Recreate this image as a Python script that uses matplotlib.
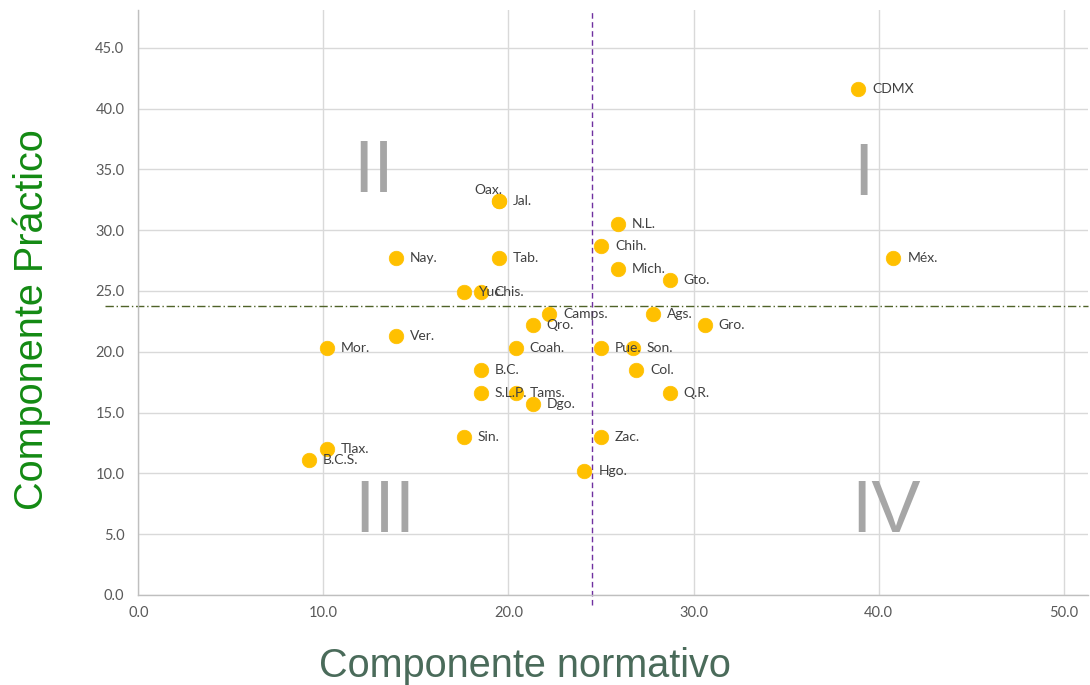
import matplotlib
matplotlib.use("Agg")
import matplotlib.pyplot as plt

# ---- data ----
states = ["CDMX", "Méx.", "Jal.", "Oax.", "Nay.", "Tab.", "Yuc.", "Chis.", "N.L.", "Chih.",
          "Mich.", "Gto.", "Camps.", "Qro.", "Ags.", "Gro.", "Mor.", "Ver.", "Coah.", "Pue.",
          "Son.", "B.C.", "Col.", "S.L.P.", "Tams.", "Q.R.", "Dgo.", "Sin.", "Zac.", "Tlax.",
          "B.C.S.", "Hgo."]
normativo = [38.9, 40.8, 19.5, 19.5, 13.9, 19.5, 17.6, 18.5, 25.9, 25.0,
             25.9, 28.7, 22.2, 21.3, 27.8, 30.6, 10.2, 13.9, 20.4, 25.0,
             26.7, 18.5, 26.9, 18.5, 20.4, 28.7, 21.3, 17.6, 25.0, 10.2,
             9.2, 24.1]
practico = [41.6, 27.7, 32.4, 32.4, 27.7, 27.7, 24.9, 24.9, 30.5, 28.7,
            26.8, 25.9, 23.1, 22.2, 23.1, 22.2, 20.3, 21.3, 20.3, 20.3,
            20.3, 18.5, 18.5, 16.6, 16.6, 16.6, 15.7, 13.0, 13.0, 12.0,
            11.1, 10.2]
mean_normativo = 24.5
mean_practico = 23.8
quadrants = ["I", "II", "III", "IV"]
quad_x = [39.2, 12.7, 13.3, 40.4]
quad_y = [34.5, 34.7, 6.8, 6.8]
xticks = [0, 10, 20, 30, 40, 50]
yticks = [0, 5, 10, 15, 20, 25, 30, 35, 40, 45]

fig = plt.figure(figsize=(10.9, 6.85), dpi=100)
ax = fig.add_axes([0.1269, 0.1314, 0.8711, 0.854])
ax.set_xlim(0, 51.3)
ax.set_ylim(0, 48.1)
ax.set_xticks(xticks)
ax.set_yticks(yticks)
ax.set_xticklabels([f"{v:.1f}" for v in xticks])
ax.set_yticklabels([f"{v:.1f}" for v in yticks])
ax.tick_params(length=0, labelsize=10.5, labelcolor="#595959")
ax.tick_params(axis="y", pad=10)
ax.tick_params(axis="x", pad=8)
for lab in ax.get_xticklabels() + ax.get_yticklabels():
    lab.set_fontfamily("Lato")
ax.grid(True, color="#d9d9d9", linewidth=1)
ax.set_axisbelow(True)
for s in ["top", "right"]:
    ax.spines[s].set_visible(False)
for s in ["left", "bottom"]:
    ax.spines[s].set_color("#bfbfbf")
    ax.spines[s].set_linewidth(1)

# quadrant numerals
for q, qx, qy in zip(quadrants, quad_x, quad_y):
    ax.text(qx, qy, q, fontsize=53, color="#a6a6a6", family="Liberation Sans",
            ha="center", va="center", zorder=1)

# mean lines
ax.plot([-1.8, 51.3], [mean_practico, mean_practico], color="#4f6228", lw=1,
        ls=(0, (6, 2, 1, 2)), clip_on=False, zorder=2)
ax.plot([mean_normativo, mean_normativo], [-0.8, 47.9], color="#7030a0", lw=1,
        ls=(0, (4, 2.5)), clip_on=False, zorder=2)

ax.scatter(normativo, practico, s=110, color="#ffc000", edgecolor="#ffc000",
           linewidth=0.5, zorder=3)
for name, x, y in zip(states, normativo, practico):
    if name == "Oax.":
        ax.annotate(name, (x, y), xytext=(2, 8), textcoords="offset points",
                    ha="right", va="center", fontsize=10, color="#404040",
                    family="Lato", zorder=4)
    else:
        ax.annotate(name, (x, y), xytext=(10, 0), textcoords="offset points",
                    ha="left", va="center", fontsize=10, color="#404040",
                    family="Lato", zorder=4)

fig.text(0.4817, 0.012, "Componente normativo", fontsize=28.5, color="#4a6b5a",
         family="Liberation Sans", ha="center", va="baseline")
fig.text(0.0394, 0.533, "Componente Práctico", fontsize=28.5, color="#138a13",
         family="Liberation Sans", ha="center", va="baseline",
         rotation=90, rotation_mode="anchor")

fig.savefig("out.png", dpi=100)
